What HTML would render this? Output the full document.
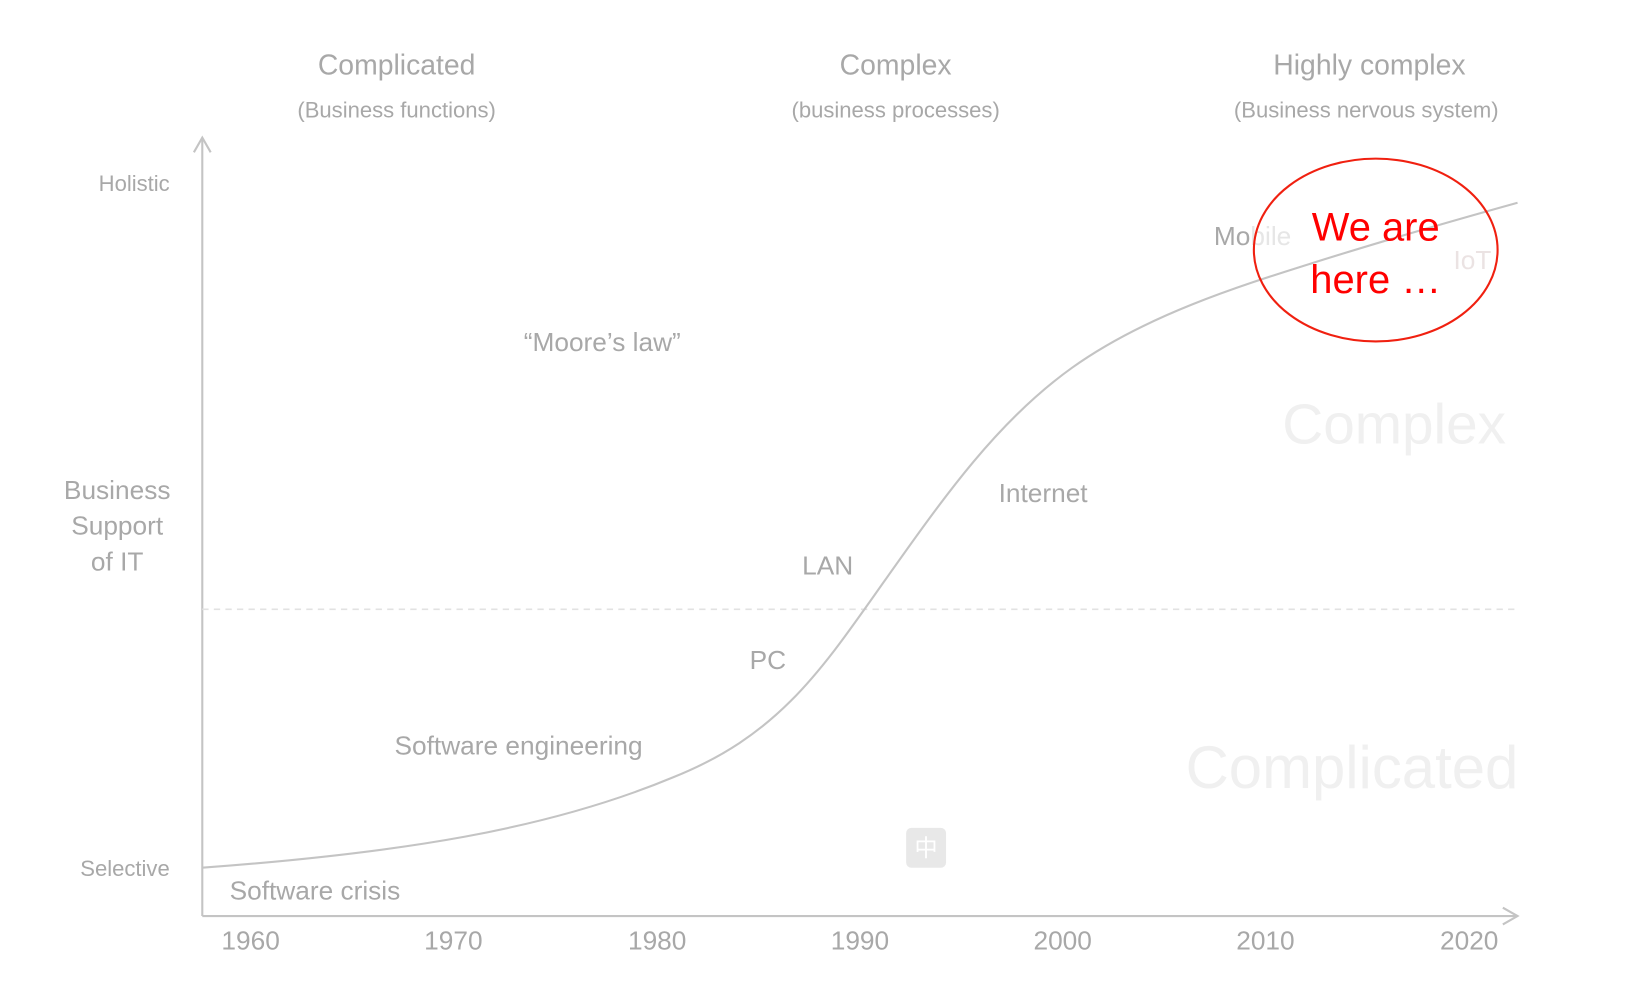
<!DOCTYPE html>
<html><head><meta charset="utf-8"><style>
html,body{margin:0;padding:0;background:#fff;width:1640px;height:998px;overflow:hidden}
svg{display:block}
text{font-family:"Liberation Sans","Noto Sans CJK SC",sans-serif;fill:#a8a8a8}
</style></head><body>
<svg width="1640" height="998" viewBox="0 0 1560 950" xmlns="http://www.w3.org/2000/svg">
<g stroke="#c4c4c4" stroke-width="2" fill="none">
<line x1="192" y1="131" x2="192" y2="872"/>
<polyline points="184,145 192,131 200,145"/>
<line x1="192" y1="872" x2="1443" y2="872"/>
<polyline points="1430,864 1444,872 1430,880"/>
</g>
<line x1="192" y1="580" x2="1445" y2="580" stroke="#e2e2e2" stroke-width="1.5" stroke-dasharray="6,5"/>
<path d="M192,826 C380,812 520,790 640,740 C740,700 780,640 840,555 C900,470 950,400 1020,350 C1090,300 1180,272 1250,250 C1320,228 1390,208 1444,193" stroke="#c4c4c4" stroke-width="2" fill="none"/>
<g font-size="26" text-anchor="middle">
<text x="377" y="71" font-size="27">Complicated</text>
<text x="377" y="112" font-size="21">(Business functions)</text>
<text x="852" y="71" font-size="27">Complex</text>
<text x="852" y="112" font-size="21">(business processes)</text>
<text x="1303" y="71" font-size="27">Highly complex</text>
<text x="1300" y="112" font-size="21">(Business nervous system)</text>
<text x="111" y="475" font-size="25">Business</text>
<text x="111" y="509" font-size="25">Support</text>
<text x="111" y="543" font-size="25">of IT</text>
<text x="238" y="904" font-size="25">1960</text>
<text x="431" y="904" font-size="25">1970</text>
<text x="625" y="904" font-size="25">1980</text>
<text x="818" y="904" font-size="25">1990</text>
<text x="1011" y="904" font-size="25">2000</text>
<text x="1204" y="904" font-size="25">2010</text>
<text x="1398" y="904" font-size="25">2020</text>
</g>
<g text-anchor="end" font-size="21">
<text x="161" y="182">Holistic</text>
<text x="161" y="834">Selective</text>
</g>
<g font-size="25">
<text x="218" y="856">Software crisis</text>
<text x="375" y="718">Software engineering</text>
<text x="713" y="637">PC</text>
<text x="763" y="547">LAN</text>
<text x="950" y="478">Internet</text>
<text x="498" y="334">“Moore’s law”</text>
<text x="1155" y="233">Mo<tspan fill="#e6e6e6">bile</tspan></text>
<text x="1383" y="256" fill="#ebe3e3" style="fill:#ebe3e3">IoT</text>
</g>
<text x="1220" y="422" font-size="54" style="fill:#f0f0f0">Complex</text>
<text x="1128" y="750" font-size="57" style="fill:#f0f0f0">Complicated</text>
<ellipse cx="1309" cy="238" rx="116" ry="87" fill="none" stroke="#f02010" stroke-width="2"/>
<g text-anchor="middle" font-size="38">
<text x="1309" y="229" style="fill:#ff0000">We are</text>
<text x="1309" y="279" style="fill:#ff0000">here …</text>
</g>
<rect x="862" y="788" width="38" height="38" rx="5" fill="#e8e8e8"/>
<text x="881" y="815" font-size="22" text-anchor="middle" style="fill:#fff">中</text>
</svg>
</body></html>
